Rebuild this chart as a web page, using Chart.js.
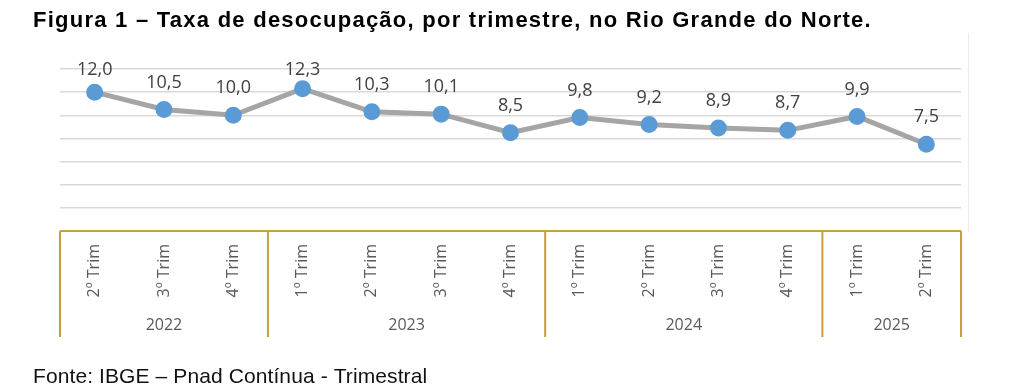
<!DOCTYPE html>
<html>
<head>
<meta charset="utf-8">
<script src="https://cdn.jsdelivr.net/npm/chart.js@4"></script>
<style>
  body { margin: 0; background: #fff; }
  canvas { display: block; }
</style>
</head>
<body>
<canvas id="chart" width="1010" height="391"></canvas>
<script>
const quarters = ["2º Trim", "3º Trim", "4º Trim", "1º Trim", "2º Trim", "3º Trim", "4º Trim",
  "1º Trim", "2º Trim", "3º Trim", "4º Trim", "1º Trim", "2º Trim"];
const rates = [12.0, 10.5, 10.0, 12.3, 10.3, 10.1, 8.5, 9.8, 9.2, 8.9, 8.7, 9.9, 7.5];
const years = ["2022", "2023", "2024", "2025"];
const quartersPerYear = [3, 4, 4, 2];

const titleText = "Figura 1 – Taxa de desocupação, por trimestre, no Rio Grande do Norte.";
const sourceText = "Fonte: IBGE – Pnad Contínua - Trimestral";

const gold = "#C4A03A";

// title, source note and the faint frame edge
const textPlugin = {
  id: "texts",
  beforeDraw(chart) {
    const ctx = chart.ctx;
    ctx.save();
    ctx.strokeStyle = "#ececec";
    ctx.lineWidth = 1;
    ctx.beginPath();
    ctx.moveTo(968.5, 33);
    ctx.lineTo(968.5, 232);
    ctx.stroke();
    ctx.fillStyle = "#000";
    ctx.textBaseline = "alphabetic";
    ctx.font = "bold 22px 'Liberation Sans'";
    ctx.letterSpacing = "1.25px";
    ctx.fillText(titleText, 33, 27);
    ctx.letterSpacing = "0.1px";
    ctx.font = "21px 'Liberation Sans'";
    ctx.fillStyle = "#111";
    ctx.fillText(sourceText, 33, 383);
    ctx.restore();
  }
};

// year groups under the quarter labels
const groupPlugin = {
  id: "groups",
  afterDraw(chart) {
    const ctx = chart.ctx;
    const x = chart.scales.x;
    const area = chart.chartArea;
    const half = (x.getPixelForValue(1) - x.getPixelForValue(0)) / 2;
    const top = area.bottom;
    const bottom = 337;
    ctx.save();
    ctx.strokeStyle = gold;
    ctx.lineWidth = 2;
    ctx.beginPath();
    ctx.moveTo(x.getPixelForValue(0) - half, top);
    ctx.lineTo(x.getPixelForValue(rates.length - 1) + half, top);
    let start = 0;
    const edges = [x.getPixelForValue(0) - half];
    quartersPerYear.forEach((n) => {
      edges.push(x.getPixelForValue(start + n - 1) + half);
      start += n;
    });
    edges.forEach((px) => {
      ctx.moveTo(px, top);
      ctx.lineTo(px, bottom);
    });
    ctx.stroke();

    ctx.fillStyle = "#595959";
    ctx.font = "16px 'Open Sans'";
    ctx.textAlign = "center";
    ctx.textBaseline = "middle";
    years.forEach((y, i) => {
      ctx.fillText(y, (edges[i] + edges[i + 1]) / 2, 325);
    });
    ctx.restore();
  }
};

// value labels above the points
const labelPlugin = {
  id: "valueLabels",
  afterDatasetsDraw(chart) {
    const ctx = chart.ctx;
    const meta = chart.getDatasetMeta(0);
    ctx.save();
    ctx.fillStyle = "#404040";
    ctx.font = "18px 'Open Sans'";
    ctx.textAlign = "center";
    ctx.textBaseline = "middle";
    meta.data.forEach((pt, i) => {
      const y = Math.max(pt.y - 27, 70);
      ctx.fillText(rates[i].toFixed(1).replace(".", ","), pt.x, y);
    });
    ctx.restore();
  }
};

new Chart(document.getElementById("chart"), {
  type: "line",
  data: {
    labels: quarters,
    datasets: [
      {
        data: rates,
        borderColor: "#A5A5A5",
        borderWidth: 5,
        backgroundColor: "#5B9BD5",
        pointBackgroundColor: "#5B9BD5",
        pointBorderColor: "#5B9BD5",
        pointRadius: 6,
        tension: 0,
        clip: false,
      },
    ],
  },
  options: {
    responsive: false,
    animation: false,
    layout: {
      padding: { left: 60, right: 49, top: 69, bottom: 54 },
    },
    plugins: {
      legend: { display: false },
      tooltip: { enabled: false },
    },
    scales: {
      x: {
        offset: true,
        grid: { display: false },
        border: { display: false },
        ticks: {
          minRotation: 90,
          maxRotation: 90,
          padding: 5,
          color: "#595959",
          font: { family: "Open Sans", size: 16 },
        },
        afterFit: (scale) => { scale.height = 106; },
      },
      y: {
        min: 0,
        max: 14,
        ticks: { display: false, stepSize: 2 },
        grid: { color: "#d9d9d9", lineWidth: 1.5, drawTicks: false },
        border: { display: false },
        afterFit: (scale) => { scale.width = 0; },
      },
    },
  },
  plugins: [textPlugin, groupPlugin, labelPlugin],
});
</script>
</body>
</html>
